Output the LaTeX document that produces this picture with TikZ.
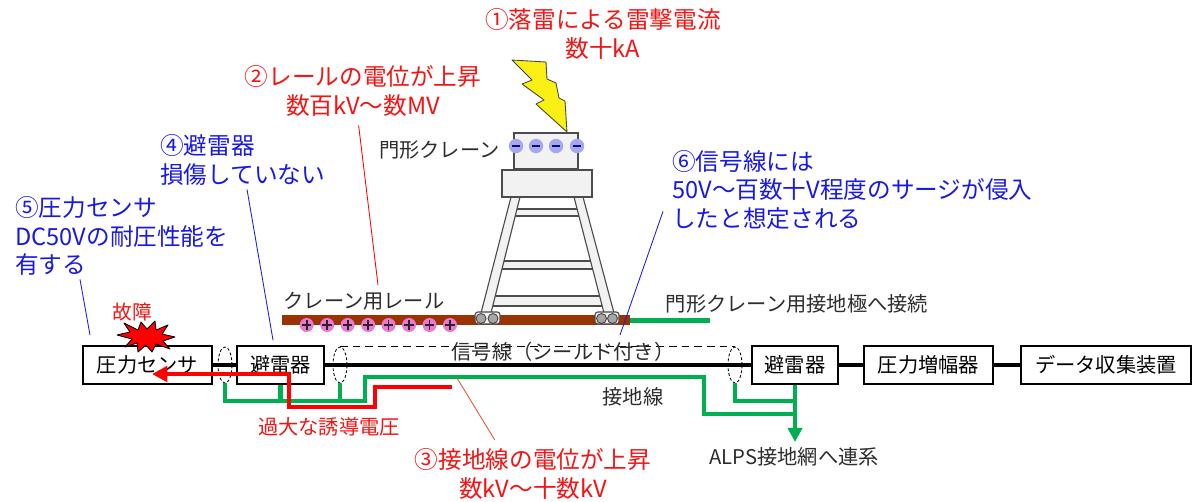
\documentclass[tikz,border=0pt]{standalone}
\usepackage{fontspec}
\setmainfont{Noto Sans CJK JP}
\usetikzlibrary{arrows.meta,shapes.geometric}

\definecolor{gndgreen}{RGB}{0,176,80}
\definecolor{railbrown}{RGB}{153,51,0}
\definecolor{pluspink}{RGB}{236,120,210}
\definecolor{minusblue}{RGB}{165,168,240}
\definecolor{noteblue}{RGB}{25,25,230}
\definecolor{notered}{RGB}{245,20,20}
\definecolor{leadorange}{RGB}{235,80,40}
\definecolor{cranegray}{RGB}{242,242,242}
\definecolor{textgray}{RGB}{45,45,45}
\definecolor{boltyellow}{RGB}{250,240,20}

\tikzset{
  box/.style={draw=black, fill=white, line width=0.9pt, inner sep=0pt, minimum height=0.95cm, font=\fontsize{14.4}{17}\selectfont},
  shield/.style={ellipse, draw=black, dash pattern=on 2pt off 1.5pt, line width=0.6pt, minimum width=0.35cm, minimum height=0.9cm, inner sep=0pt},
  shieldline/.style={line width=0.9pt, dash pattern=on 5.5pt off 3.5pt},
  sigline/.style={line width=2.8pt},
  gndline/.style={gndgreen, line width=3pt},
  surgeline/.style={red, line width=3pt},
  crane/.style={draw=black!70, fill=cranegray, line width=0.8pt},
  rednote/.style={notered, font=\fontsize{16.8}{20}\selectfont, align=center, inner sep=0pt},
  bluenote/.style={noteblue, font=\fontsize{16.8}{20}\selectfont, align=left, inner sep=0pt},
  plainlbl/.style={textgray, font=\fontsize{14.4}{17}\selectfont, inner sep=0pt},
  pluschg/.style={circle, fill=pluspink, minimum size=0.35cm, inner sep=0pt,
    path picture={\draw[line width=1.3pt, black!85] (path picture bounding box.center) ++(-3.4pt,0) -- ++(6.8pt,0)
      (path picture bounding box.center) ++(0,-3.4pt) -- ++(0,6.8pt);}},
  minuschg/.style={circle, fill=minusblue, minimum size=0.36cm, inner sep=0pt,
    path picture={\draw[line width=1.3pt, noteblue!50!black] (path picture bounding box.center) ++(-2.6pt,0) -- ++(5.2pt,0);}},
}

\begin{document}
\begin{tikzpicture}[x=0.025cm, y=-0.025cm]
\useasboundingbox[fill=white] (0,0) rectangle (1196,501);

\fill[railbrown] (282,315) rectangle (630,325);
\draw[crane] (511,209) rectangle (583,216);
\draw[crane] (498,261) rectangle (596,269);
\draw[crane] (489,296) rectangle (605,306);
\draw[crane] (511,197) -- (520,197) -- (491,313) -- (481,313) -- cycle;
\draw[crane] (574,197) -- (583,197) -- (614,313) -- (604,313) -- cycle;
\draw[crane] (502,170) rectangle (592,197);
\draw[crane] (514,133) rectangle (578,169);
\draw[crane, rounded corners=2pt] (475,312) rectangle (500,324);
\draw[crane, rounded corners=2pt] (595,312) rectangle (619,324);
\foreach \x in {481,493,601.5,612.5}
  \draw[draw=black!75, fill=black!35, line width=0.6pt] (\x,318.5) circle (5);
\foreach \i in {0,...,7}
  \node[pluschg] (p\i) at (306.7+20.47*\i,325) {};
\foreach \i/\x in {1/516,2/536,3/556,4/577}
  \node[minuschg] (m\i) at (\x,146) {};

\draw[fill=boltyellow, draw=black!75, line width=0.6pt, line join=round] (512,60) -- (546,62) -- (547,79) -- (556,83) -- (559,98) -- (565,101) -- (567,132) -- (536,104) -- (544,100) -- (522,84) -- (532,80) -- cycle;

\coordinate (railend) at (630,320.5);
\coordinate (cranegnd) at (710,320.5);
\draw[gndline] (railend) -- (cranegnd);

\node[box, minimum width=3.225cm] (sensor) at (147.5,365) {圧力センサ};
\node[box, minimum width=2.175cm] (arrL) at (280.5,365) {避雷器};
\node[box, minimum width=2.15cm] (arrR) at (795,365) {避雷器};
\node[box, minimum width=3.225cm] (amp) at (928.5,365) {圧力増幅器};
\node[box, minimum width=4.25cm] (daq) at (1106,365) {データ収集装置};
\node[shield] (shA) at (225,365) {};
\node[shield] (shB) at (340,365) {};
\node[shield] (shC) at (735,365) {};

\draw[sigline] (sensor) -- (arrL);
\draw[sigline] (arrL) -- (arrR);
\draw[sigline] (arrR) -- (amp);
\draw[sigline] (amp) -- (daq);
\draw[shieldline] (shB.north) -- (shC.north);
\node[plainlbl] (shieldlbl) at (563,352) {信号線（シールド付き）};

\coordinate (gjoin) at (365,401);
\coordinate (gbend) at (704,377);
\coordinate (gtap) at (795,414);
\coordinate (gtapr) at (795,401);
\coordinate (alps) at (795,442);
\draw[gndline] (shA.south) |- (gjoin) |- (gbend) |- (gtap);
\draw[gndline] (arrL.south) -- (arrL.south |- gjoin);
\draw[gndline] (shB.south) -- (shB.south |- gjoin);
\draw[gndline] (shC.south) |- (gtapr);
\draw[gndline, -{Triangle[length=10pt, width=10pt]}] (arrR.south) -- (alps);

\coordinate (surge) at (452,387);
\coordinate (rdrop) at (375,407);
\coordinate (rrise) at (289,374);
\coordinate (fault) at (152,374);
\draw[surgeline, -{Triangle[length=11pt, width=11pt]}] (surge) -| (rdrop) -| (rrise) -- (fault);

\draw[fill=red, draw=black, line width=0.6pt, line join=round, shift={(146,337)}]
  (-29,-2) -- (-16,-5) -- (-22,-14) -- (-8,-7) -- (-5,-15) -- (1,-8) -- (9,-16) -- (10,-7) -- (22,-12) -- (16,-3) -- (29,0) -- (17,4) -- (24,12) -- (10,7) -- (6,15) -- (0,8) -- (-8,15) -- (-9,6) -- (-21,10) -- (-14,2) -- cycle;

\node[rednote] (strike) at (603,34) {①落雷による雷撃電流\\数十kA};
\node[rednote] (railv) at (363,91) {②レールの電位が上昇\\数百kV～数MV};
\node[rednote] (gndv) at (533,474) {③接地線の電位が上昇\\数kV～十数kV};
\node[bluenote, anchor=west] (arrnote) at (160,160) {④避雷器\\損傷していない};
\node[bluenote, anchor=west] (sensnote) at (15,236) {⑤圧力センサ\\DC50Vの耐圧性能を\\有する};
\node[bluenote, anchor=west] (signote) at (672,190) {⑥信号線には\\50V～百数十V程度のサージが侵入\\したと想定される};
\node[rednote, font=\fontsize{14}{17}\selectfont] (faultlbl) at (132,312) {故障};
\node[rednote, font=\fontsize{14.4}{17}\selectfont] (surgelbl) at (329,427) {過大な誘導電圧};
\node[plainlbl, anchor=east] (cranelbl) at (500,150) {門形クレーン};
\node[plainlbl] (raillbl) at (364,301) {クレーン用レール};
\node[plainlbl] (earthlbl) at (797,304) {門形クレーン用接地極へ接続};
\node[plainlbl] (gndlbl) at (633,397) {接地線};
\node[plainlbl] (alpslbl) at (794,457) {ALPS接地網へ連系};

\coordinate (railtip) at (378,285);
\coordinate (arrtip) at (273,340);
\coordinate (senstip) at (90,335);
\coordinate (sigtip) at (620,335);
\coordinate (gndtip) at (457,378);
\draw[red, line width=0.6pt] (railv.south west) ++(114,9) -- (railtip);
\draw[leadorange, line width=0.6pt] (gndv.north west) ++(80,-9) -- (gndtip);
\draw[noteblue, line width=0.6pt] (arrnote.south west) ++(87,4) -- (arrtip);
\draw[noteblue, line width=0.6pt] (sensnote.south west) ++(65,4) -- (senstip);
\draw[noteblue, line width=0.6pt] (signote.south west) ++(-9,-18) -- (sigtip);
\end{tikzpicture}
\end{document}
